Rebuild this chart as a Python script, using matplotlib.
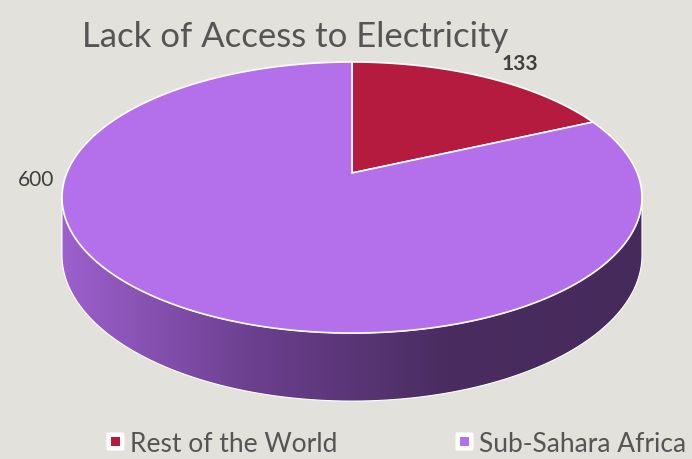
import numpy as np
import matplotlib.pyplot as plt
from matplotlib.patches import Polygon, FancyBboxPatch, Rectangle
from matplotlib.colors import LinearSegmentedColormap

title = 'Lack of Access to Electricity'
labels = ['Rest of the World', 'Sub-Sahara Africa']
values = [133, 600]
colors = ['#b41b3e', '#b46fea']

plt.rcParams['font.family'] = ['Lato', 'DejaVu Sans']

# pie geometry (pixels), simple perspective tilt
cx, cy = 352, 173
sx, sy = 285.2, 131.1
k = 0.181
depth = 55.7


def project(t, r=1.0, drop=0.0):
    u = r * np.cos(t)
    v = r * np.sin(t)
    d = 1 + k * v
    return cx + sx * u / d, cy - sy * v / d + drop * depth / d


fig = plt.figure(figsize=(6.92, 4.59), dpi=100)
fig.patch.set_facecolor('#e3e1dc')
ax = fig.add_axes([0, 0, 1, 1])
ax.set_xlim(0, 692)
ax.set_ylim(459, 0)
ax.axis('off')

# side wall with horizontal shading
a = np.arcsin(k)
t = np.linspace(np.pi + a, 2 * np.pi - a, 300)
tx, ty = project(t)
bx, by = project(t[::-1], drop=1.0)
wall = Polygon(np.column_stack([np.r_[tx, bx], np.r_[ty, by]]), closed=True,
               facecolor='none', edgecolor='white', lw=0.8, zorder=2)
ax.add_patch(wall)
cmap = LinearSegmentedColormap.from_list('wall', ['#9d60cd', '#6b3f8e', '#4a2c60', '#472a5c'])
grad = np.linspace(0, 1, 256).reshape(1, -1)
im = ax.imshow(grad, cmap=cmap, extent=[tx.min(), tx.max(), by.max() + 2, ty.min()],
               aspect='auto', zorder=1, interpolation='bilinear')
im.set_clip_path(wall)
ax.set_xlim(0, 692)
ax.set_ylim(459, 0)

# top face
total = sum(values)
start = np.pi / 2
for val, col in zip(values, colors):
    ext = 2 * np.pi * val / total
    tt = np.linspace(start, start - ext, 300)
    px, py = project(tt)
    ox, oy = project(0.0, r=0.0)
    pts = np.column_stack([np.r_[ox, px], np.r_[oy, py]])
    ax.add_patch(Polygon(pts, closed=True, facecolor=col, edgecolor='white', lw=1.2, zorder=3))
    start -= ext

# value labels
ax.text(520, 64, str(values[0]), ha='center', va='center', fontsize=15,
        fontweight='bold', color='#404040')
ax.text(36, 180, str(values[1]), ha='center', va='center', fontsize=15, color='#404040')

ax.text(82, 47, title, ha='left', va='baseline', fontsize=25, color='#555555')

# legend
for x0, lab, col in [(106, labels[0], colors[0]), (455, labels[1], colors[1])]:
    ax.add_patch(FancyBboxPatch((x0 + 2, 434), 15, 15, boxstyle='round,pad=1.5',
                                facecolor='white', edgecolor='none', zorder=4))
    ax.add_patch(Rectangle((x0 + 5, 437), 9, 9, facecolor=col, edgecolor='none', zorder=5))
    ax.text(x0 + 24, 452, lab, ha='left', va='baseline', fontsize=19, color='#555555')

fig.savefig('out.png', dpi=100, facecolor=fig.get_facecolor())
